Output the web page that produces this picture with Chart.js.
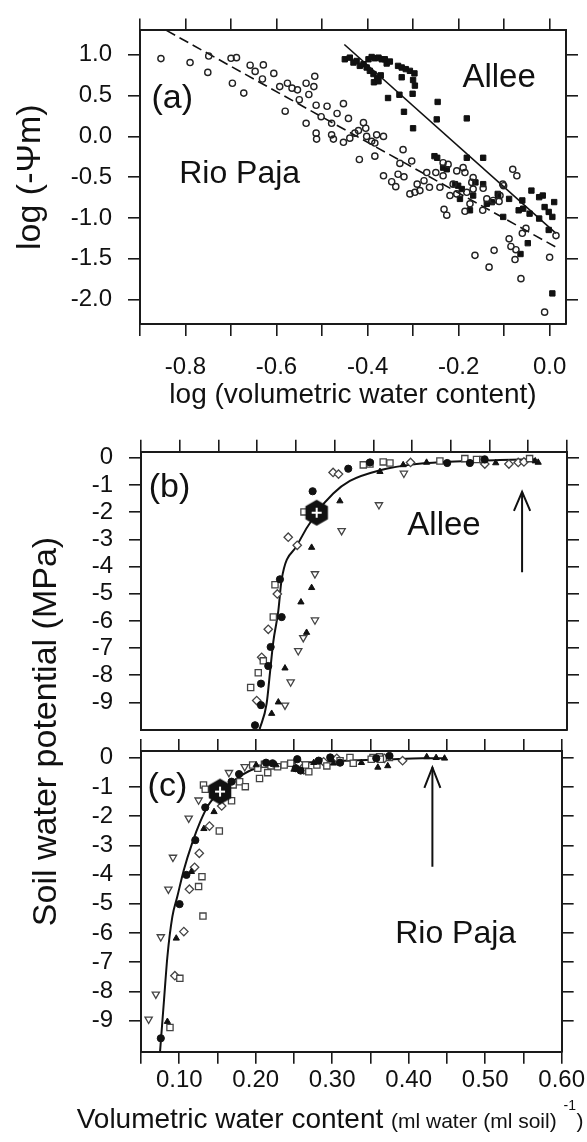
<!DOCTYPE html>
<html><head><meta charset="utf-8">
<script src="https://cdn.jsdelivr.net/npm/chart.js@4.4.1/dist/chart.umd.min.js"></script>
<style>
html,body{margin:0;padding:0;background:#fff;}
#wrap{position:relative;width:587px;height:1142px;overflow:hidden;background:#fff;}
canvas{position:absolute;left:0;}
</style></head><body>
<div id="wrap">
<canvas id="cA" width="587" height="430" style="top:0px"></canvas>
<canvas id="cB" width="587" height="340" style="top:420px"></canvas>
<canvas id="cC" width="587" height="722" style="top:420px"></canvas>
</div>
<script>
// ---------- Panel (a): log(volumetric water content) vs log(-Psi_m) ----------
const aXTicks = [-0.9,-0.8,-0.7,-0.6,-0.5,-0.4,-0.3,-0.2,-0.1,0.0];
const aXLabels = ['','-0.8','','-0.6','','-0.4','','-0.2','','0.0'];
const aYTicks = [-2.0,-1.5,-1.0,-0.5,0.0,0.5,1.0];
const aYLabels = ['-2.0','-1.5','-1.0','-0.5','0.0','0.5','1.0'];

const rpLogTheta = [-0.854,-0.790,-0.749,-0.751,-0.700,-0.688,-0.697,-0.672,-0.658,-0.647,-0.629,-0.631,-0.606,-0.593,-0.576,-0.566,-0.554,-0.550,-0.535,-0.529,-0.518,-0.516,-0.513,-0.581,-0.535,-0.502,-0.513,-0.512,
 -0.489,-0.453,-0.467,-0.442,-0.479,-0.409,-0.404,-0.479,-0.475,-0.428,-0.420,-0.453,-0.439,-0.402,-0.391,-0.380,-0.365,-0.384,-0.322,-0.303,
 -0.418,-0.384,-0.329,-0.365,-0.347,-0.338,-0.333,-0.320,-0.307,-0.296,-0.285,-0.291,-0.276,-0.270,-0.264,-0.250,-0.241,-0.234,-0.223,-0.204,-0.190,-0.186,-0.234,-0.212,-0.219,-0.204,-0.182,-0.168,-0.168,-0.171,-0.232,-0.226,-0.186,-0.175,-0.147,-0.146,-0.138,-0.124,-0.111,-0.103,-0.164,-0.122,-0.133,
 -0.089,-0.085,-0.074,-0.076,-0.063,-0.060,-0.052,-0.011,0.000,0.014,-0.109,-0.101,-0.081,-0.072];
const rpLogPsi = [0.954,0.906,0.986,0.785,0.958,0.966,0.652,0.531,0.873,0.797,0.877,0.704,0.773,0.611,0.652,0.592,0.571,0.450,0.652,0.514,0.611,0.737,0.382,0.309,0.161,0.242,0.040,-0.033,
 0.370,0.402,0.281,0.221,0.161,0.169,0.100,0.019,-0.033,0.040,0.072,-0.072,-0.021,0.000,-0.060,0.019,0.000,-0.081,-0.162,-0.302,
 -0.283,-0.242,-0.331,-0.483,-0.556,-0.616,-0.464,-0.495,-0.705,-0.685,-0.664,-0.585,-0.543,-0.443,-0.624,-0.443,-0.624,-0.322,-0.343,-0.423,-0.383,-0.443,-0.483,-0.585,-0.725,-0.705,-0.685,-0.645,-0.504,-0.564,-0.894,-0.966,-0.918,-0.826,-0.906,-0.636,-0.766,-0.785,-0.797,-0.585,-1.458,-1.397,-1.603,
 -1.256,-1.349,-1.389,-1.510,-1.744,-1.188,-1.128,-2.155,-1.482,-1.216,-0.725,-0.604,-0.403,-0.483];

const alLogTheta = [-0.450,-0.439,-0.431,-0.424,-0.417,-0.409,-0.402,-0.395,-0.398,-0.391,-0.384,-0.376,-0.369,-0.362,-0.358,-0.351,-0.387,-0.379,-0.371,-0.386,-0.376,-0.333,-0.325,-0.316,-0.307,-0.297,-0.325,-0.300,-0.296,-0.355,-0.330,-0.301,-0.320,-0.300,-0.246,-0.248,-0.182,
 -0.253,-0.247,-0.182,-0.146,-0.234,-0.226,-0.208,-0.201,-0.193,-0.197,-0.168,-0.146,-0.175,-0.138,-0.127,-0.113,-0.102,
 -0.064,-0.048,-0.040,-0.023,-0.015,-0.060,-0.044,-0.068,-0.058,-0.011,-0.002,0.006,0.010,-0.002,-0.023,0.006,-0.163,-0.114,-0.089];
const alLogPsi = [0.946,0.966,0.906,0.925,0.865,0.885,0.845,0.804,0.946,0.974,0.958,0.966,0.946,0.946,0.894,0.918,0.765,0.716,0.749,0.664,0.676,0.865,0.845,0.825,0.804,0.773,0.725,0.692,0.623,0.471,0.511,0.523,0.302,0.100,0.423,0.209,0.221,
 -0.242,-0.262,-0.262,-0.262,-0.383,-0.403,-0.585,-0.604,-0.645,-0.766,-0.725,-0.585,-0.906,-0.826,-0.806,-0.725,-0.987,
 -1.442,-1.309,-0.664,-0.745,-0.725,-0.785,-0.947,-0.906,-0.886,-0.866,-0.926,-0.987,-0.805,-1.147,-1.007,-1.925,-0.564,-0.705,-0.766];

const rpFitX = [-0.842, 0.018];
const rpFitY = [1.30, -1.37];
const alFitX = [-0.451, 0.014];
const alFitY = [1.127, -1.188];

// ---------- Panels (b) and (c): volumetric water content vs soil water potential ----------
const bcXTicks = [0.05,0.10,0.15,0.20,0.25,0.30,0.35,0.40,0.45,0.50,0.55,0.60];
const bcXLabels = ['','0.10','','0.20','','0.30','','0.40','','0.50','','0.60'];
const bcYTicks = [-9,-8,-7,-6,-5,-4,-3,-2,-1,0];
const bcYLabels = ['-9','-8','-7','-6','-5','-4','-3','-2','-1','0'];

// (b) Allee
const bCircX = [0.1972,0.2049,0.2049,0.2143,0.2174,0.2316,0.2294,0.2716,0.3176,0.3456,0.4453,0.4746,0.4937];
const bCircY = [-9.84,-9.10,-8.31,-7.66,-6.96,-5.86,-4.47,-1.23,-0.40,-0.17,-0.19,-0.19,-0.06];
const bTriX = [0.2187,0.2273,0.2359,0.2638,0.2565,0.2703,0.2703,0.3068,0.3585,0.3885,0.4187,0.508,0.559,0.5628];
const bTriY = [-9.41,-8.99,-7.74,-6.43,-5.31,-4.78,-3.30,-1.59,-0.51,-0.26,-0.17,-0.19,-0.12,-0.17];
const bSqX = [0.1916,0.2014,0.2079,0.2208,0.223,0.2604,0.337,0.3456,0.3627,0.3714,0.4359,0.4681,0.4832,0.4917,0.5517];
const bSqY = [-8.45,-7.91,-7.47,-5.86,-4.67,-1.99,-0.26,-0.23,-0.15,-0.19,-0.12,-0.03,-0.06,-0.06,-0.03];
const bDiaX = [0.1994,0.2058,0.2143,0.226,0.2401,0.2517,0.298,0.305,0.398,0.4939,0.525,0.537,0.5444];
const bDiaY = [-8.93,-7.34,-6.31,-5.01,-2.92,-3.22,-0.54,-0.60,-0.17,-0.23,-0.23,-0.17,-0.15];
const bDownX = [0.2359,0.2432,0.253,0.2595,0.2746,0.2746,0.309,0.3572,0.3894];
const bDownY = [-9.10,-8.25,-7.10,-6.62,-5.97,-4.27,-2.68,-1.73,-0.57];
const bHexX = [0.2768];
const bHexY = [-2.02];
const bCurveX = [0.2030,0.2122,0.2165,0.2208,0.2273,0.2315,0.251,0.2768,0.2982,0.3197,0.3585,0.4058,0.4703,0.5133,0.559];
const bCurveY = [-10.0,-9.04,-7.91,-6.77,-5.63,-4.49,-3.24,-2.02,-1.31,-0.85,-0.46,-0.23,-0.12,-0.08,-0.05];
const bArrowX = [0.542, 0.542];
const bArrowY = [-4.21, -1.25];

// (c) Rio Paja
const cCircX = [0.0759,0.1004,0.1094,0.121,0.134,0.1684,0.1782,0.2135,0.222,0.2543,0.2523,0.2587,0.2823,0.2974,0.3103,0.3576,0.3748];
const cCircY = [-9.60,-5.01,-4.01,-2.82,-1.70,-0.82,-0.56,-0.17,-0.19,-0.05,-0.36,-0.44,-0.10,0.01,-0.17,-0.02,0.06];
const cTriX = [0.0845,0.0961,0.1159,0.1322,0.1455,0.2006,0.2265,0.250,0.2759,0.3017,0.3382,0.3597,0.3726,0.4236,0.4359,0.4469];
const cTriY = [-9.03,-6.18,-3.90,-2.43,-1.85,-0.25,-0.25,-0.40,-0.17,-0.19,-0.17,-0.33,-0.28,0.03,0.00,-0.02];
const cSqX = [0.0879,0.1008,0.131,0.1253,0.1297,0.1524,0.1684,0.1317,0.134,0.1705,0.179,0.1864,0.205,0.2157,0.196,0.2027,0.2114,0.22,0.2286,0.2372,0.2458,0.2652,0.2694,0.28,0.293,0.3103,0.3232,0.3275,0.3533,0.362,0.3748,0.351,0.363];
const cSqY = [-9.23,-7.55,-5.42,-4.41,-4.07,-2.51,-1.47,-0.93,-1.08,-0.93,-0.82,-0.99,-0.71,-0.51,-0.25,-0.36,-0.22,-0.28,-0.31,-0.25,-0.19,-0.25,-0.48,-0.25,-0.28,-0.10,0.01,-0.19,0.01,0.03,0.01,-0.05,-0.05];
const cDiaX = [0.0943,0.106,0.1133,0.1201,0.1262,0.1395,0.1555,0.2565,0.2629,0.2888,0.306,0.3684,0.392];
const cDiaY = [-7.46,-5.95,-4.50,-3.75,-3.27,-2.34,-1.65,-0.19,-0.42,-0.14,-0.02,-0.02,-0.10];
const cDownX = [0.060,0.0694,0.0759,0.0858,0.0918,0.1124,0.1253,0.165,0.1856];
const cDownY = [-8.95,-8.09,-6.13,-4.50,-3.41,-2.07,-1.45,-0.51,-0.31];
const cHexX = [0.1533];
const cHexY = [-1.16];
const cCurveX = [0.0749,0.0801,0.0845,0.091,0.0974,0.106,0.1168,0.1275,0.1382,0.1533,0.1726,0.1942,0.2243,0.2888,0.3748,0.4178,0.4475];
const cCurveY = [-10.06,-8.29,-6.81,-5.44,-4.76,-3.84,-2.93,-2.19,-1.62,-1.16,-0.76,-0.42,-0.25,-0.14,-0.055,-0.02,-0.02];
const cArrowX = [0.431, 0.431];
const cArrowY = [-3.73, -0.33];

// ---------- helpers ----------
const FONT = "'Liberation Sans', Arial, Helvetica, sans-serif";
Chart.defaults.font.family = FONT;
Chart.defaults.color = '#111';
const INK = '#1a1a1a';

const zip = (xs, ys) => xs.map((x, i) => ({x: x, y: ys[i]}));
const arrowHead = (xs, ys) => {
  const x = xs[1], tip = ys[1];
  return [{x: x - 0.0105, y: tip - 0.7}, {x: x, y: tip}, {x: x + 0.0105, y: tip - 0.7}];
};

function axis(o) {
  const horiz = (o.pos === 'top' || o.pos === 'bottom');
  return {
    type: 'linear', axis: horiz ? 'x' : 'y', position: o.pos, min: o.min, max: o.max,
    afterBuildTicks: s => { s.ticks = o.ticks.map(v => ({value: v})); },
    afterFit: s => { if (horiz) s.height = o.size; else s.width = o.size; },
    ticks: {
      display: !!o.labels, autoSkip: false, maxRotation: 0, minRotation: 0,
      padding: o.pad || 0, color: '#111', font: {size: 24},
      callback: (v, i) => (o.labels ? o.labels[i] : '')
    },
    grid: { display: true, drawOnChartArea: false, drawTicks: o.tick !== 0,
            tickLength: (o.tick === undefined ? 12 : o.tick), color: INK, lineWidth: 1.6 },
    border: { display: true, color: INK, width: 2 },
    title: o.title || {display: false}
  };
}

const textPlugin = {
  id: 'texts',
  afterDraw(chart, args, opts) {
    const ctx = chart.ctx;
    (opts.items || []).forEach(it => {
      ctx.save();
      ctx.font = it.font;
      ctx.fillStyle = '#111';
      ctx.textAlign = it.align || 'center';
      ctx.textBaseline = it.baseline || 'alphabetic';
      let x, y;
      if (it.px) { x = it.px[0]; y = it.px[1]; }
      else { x = chart.scales.x.getPixelForValue(it.x); y = chart.scales.y.getPixelForValue(it.y); }
      ctx.translate(x, y);
      if (it.rot) ctx.rotate(it.rot);
      ctx.fillText(it.text, 0, 0);
      ctx.restore();
    });
  }
};

function makeHex() {
  const c = document.createElement('canvas');
  c.width = 28; c.height = 30;
  const g = c.getContext('2d');
  g.beginPath();
  for (let k = 0; k < 6; k++) {
    const a = -Math.PI / 2 + k * Math.PI / 3;
    const px = 14 + 13 * Math.cos(a), py = 15 + 13 * Math.sin(a);
    if (k === 0) g.moveTo(px, py); else g.lineTo(px, py);
  }
  g.closePath();
  g.fillStyle = '#111'; g.fill();
  g.strokeStyle = '#fff'; g.lineWidth = 2;
  g.beginPath(); g.moveTo(9, 15); g.lineTo(19, 15); g.moveTo(14, 10); g.lineTo(14, 20); g.stroke();
  return c;
}
const HEX = makeHex();

const base = {
  responsive: false, animation: false, events: [],
  layout: { padding: 0, autoPadding: false }
};
const pluginsBase = { legend: {display: false}, tooltip: {enabled: false} };

function markerSets(circ, tri, sq, dia, down, hex) {
  return [
    {data: hex, pointStyle: HEX, pointRadius: 12, borderWidth: 0},
    {data: circ, pointStyle: 'circle', pointRadius: 3.6, borderColor: '#111', backgroundColor: '#111', pointBorderColor: '#111', pointBackgroundColor: '#111', borderWidth: 1},
    {data: tri, pointStyle: 'triangle', pointRadius: 3.6, borderColor: '#111', backgroundColor: '#111', pointBorderColor: '#111', pointBackgroundColor: '#111', borderWidth: 1},
    {data: sq, pointStyle: 'rect', pointRadius: 4.4, borderColor: '#444', backgroundColor: '#fff', pointBorderColor: '#444', pointBackgroundColor: '#fff', borderWidth: 1.3},
    {data: dia, pointStyle: 'rectRot', pointRadius: 4.2, borderColor: '#444', backgroundColor: '#fff', pointBorderColor: '#444', pointBackgroundColor: '#fff', borderWidth: 1.3},
    {data: down, pointStyle: 'triangle', pointRotation: 180, rotation: 180, pointRadius: 4.2, borderColor: '#444', backgroundColor: '#fff', pointBorderColor: '#444', pointBackgroundColor: '#fff', borderWidth: 1.3}
  ];
}
function lineSet(data, w, dash) {
  return {data: data, showLine: true, pointRadius: 0, borderColor: '#111', borderWidth: w, borderDash: dash || [], fill: false};
}

// ---------- Chart (a) ----------
new Chart(document.getElementById('cA'), {
  type: 'scatter',
  data: { datasets: [
    {data: zip(rpLogTheta, rpLogPsi), pointStyle: 'circle', pointRadius: 3.1, borderColor: '#222', backgroundColor: 'rgba(255,255,255,0)', pointBorderColor: '#222', pointBackgroundColor: 'rgba(255,255,255,0)', borderWidth: 1.4},
    {data: zip(alLogTheta, alLogPsi), pointStyle: 'rect', pointRadius: 3.8, borderColor: '#111', backgroundColor: '#111', pointBorderColor: '#111', pointBackgroundColor: '#111', borderWidth: 1},
    lineSet(zip(rpFitX, rpFitY), 1.6, [10, 5]),
    lineSet(zip(alFitX, alFitY), 1.6)
  ]},
  plugins: [textPlugin],
  options: Object.assign({}, base, {
    plugins: Object.assign({}, pluginsBase, { texts: { items: [
      {text: '(a)', x: -0.829, y: 0.466, font: '34px ' + FONT, baseline: 'middle'},
      {text: 'Allee', x: -0.111, y: 0.608, font: '33px ' + FONT},
      {text: 'Rio Paja', x: -0.681, y: -0.572, font: '32px ' + FONT}
    ]}}),
    scales: {
      x: axis({pos: 'bottom', min: -0.9, max: 0.036, ticks: aXTicks, labels: aXLabels, size: 106, pad: 17,
        title: {display: true, text: 'log (volumetric water content)', color: '#111', font: {size: 28}, padding: {top: 0, bottom: 18}}}),
      xt: axis({pos: 'top', min: -0.9, max: 0.036, ticks: aXTicks, size: 26}),
      y: axis({pos: 'left', min: -2.3, max: 1.3, ticks: aYTicks, labels: aYLabels, size: 140, pad: 16,
        title: {display: true, text: 'log (-Ψm)', color: '#111', font: {size: 34}, padding: {top: 10, bottom: 0}}}),
      yr: axis({pos: 'right', min: -2.3, max: 1.3, ticks: aYTicks, size: 21})
    }
  })
});

// ---------- Chart (b) ----------
new Chart(document.getElementById('cB'), {
  type: 'scatter',
  data: { datasets: markerSets(zip(bCircX, bCircY), zip(bTriX, bTriY), zip(bSqX, bSqY), zip(bDiaX, bDiaY), zip(bDownX, bDownY), zip(bHexX, bHexY))
    .concat([
      lineSet(zip(bCurveX, bCurveY), 2),
      lineSet(zip(bArrowX, bArrowY), 2),
      lineSet(arrowHead(bArrowX, bArrowY), 2)
    ]).map((d, i) => (i === 6 ? Object.assign(d, {cubicInterpolationMode: 'monotone'}) : d)) },
  plugins: [textPlugin],
  options: Object.assign({}, base, {
    plugins: Object.assign({}, pluginsBase, { texts: { items: [
      {text: '(b)', x: 0.0867, y: -1.08, font: '34px ' + FONT, baseline: 'middle'},
      {text: 'Allee', x: 0.4412, y: -2.85, font: '33px ' + FONT}
    ]}}),
    scales: {
      x: axis({pos: 'bottom', min: 0.05, max: 0.60, ticks: bcXTicks, size: 9, tick: 0}),
      xt: axis({pos: 'top', min: 0.05, max: 0.60, ticks: bcXTicks, size: 31.7}),
      y: axis({pos: 'left', min: -10, max: 0.225, ticks: bcYTicks, labels: bcYLabels, size: 141, pad: 16}),
      yr: axis({pos: 'right', min: -10, max: 0.225, ticks: bcYTicks, size: 20})
    }
  })
});

// ---------- Chart (c) ----------
new Chart(document.getElementById('cC'), {
  type: 'scatter',
  data: { datasets: markerSets(zip(cCircX, cCircY), zip(cTriX, cTriY), zip(cSqX, cSqY), zip(cDiaX, cDiaY), zip(cDownX, cDownY), zip(cHexX, cHexY))
    .concat([
      lineSet(zip(cCurveX, cCurveY), 2),
      lineSet(zip(cArrowX, cArrowY), 2),
      lineSet(arrowHead(cArrowX, cArrowY), 2)
    ]).map((d, i) => (i === 6 ? Object.assign(d, {cubicInterpolationMode: 'monotone'}) : d)) },
  plugins: [textPlugin],
  options: Object.assign({}, base, {
    plugins: Object.assign({}, pluginsBase, { texts: { items: [
      {text: '(c)', x: 0.0845, y: -0.99, font: '34px ' + FONT, baseline: 'middle'},
      {text: 'Rio Paja', x: 0.4614, y: -6.34, font: '32px ' + FONT},
      {text: 'Soil water potential (MPa)', px: [47, 311.5], rot: -Math.PI / 2, font: '34px ' + FONT, baseline: 'middle'},
      {text: 'Volumetric water content', px: [76.7, 708.3], align: 'left', font: '28px ' + FONT},
      {text: '(ml water (ml soil)', px: [391, 708.3], align: 'left', font: '21px ' + FONT},
      {text: '-1', px: [563.5, 690], align: 'left', font: '14px ' + FONT},
      {text: ')', px: [576.6, 708.3], align: 'left', font: '21px ' + FONT}
    ]}}),
    scales: {
      x: axis({pos: 'bottom', min: 0.05, max: 0.60, ticks: bcXTicks, labels: bcXLabels, size: 90.3, pad: 2}),
      xt: axis({pos: 'top', min: 0.05, max: 0.60, ticks: bcXTicks, size: 331}),
      y: axis({pos: 'left', min: -10.06, max: 0.23, ticks: bcYTicks, labels: bcYLabels, size: 141, pad: 16}),
      yr: axis({pos: 'right', min: -10.06, max: 0.23, ticks: bcYTicks, size: 20})
    }
  })
});
</script>
</body></html>
